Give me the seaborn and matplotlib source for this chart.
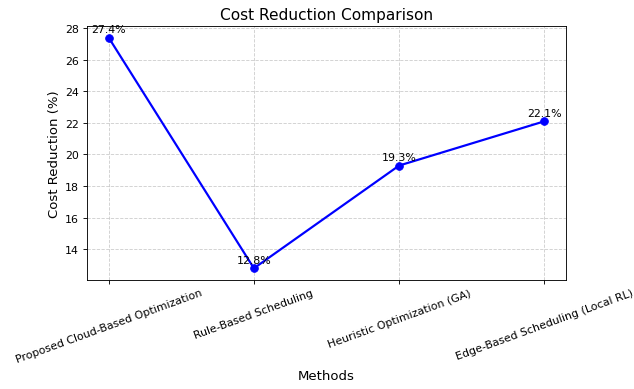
import matplotlib
matplotlib.use("Agg")
import matplotlib.pyplot as plt
import seaborn as sns
import pandas as pd

methods = ["Proposed Cloud-Based Optimization", "Rule-Based Scheduling",
           "Heuristic Optimization (GA)", "Edge-Based Scheduling (Local RL)"]
cost_reduction = [27.4, 12.8, 19.3, 22.1]

df = pd.DataFrame({"Method": methods, "Cost Reduction": cost_reduction})

fig, ax = plt.subplots(figsize=(8, 4.92), dpi=79.25)
sns.lineplot(data=df, x="Method", y="Cost Reduction", marker="o", color="blue",
             linewidth=2, markersize=7, markeredgecolor="blue", sort=False, ax=ax)

for i, v in enumerate(cost_reduction):
    ax.annotate(f"{v}%", (i, v), textcoords="offset points", xytext=(0, 5),
                ha="center", fontsize=10)

ax.set_title("Cost Reduction Comparison", fontsize=14)
ax.set_xlabel("Methods", fontsize=12)
ax.set_ylabel("Cost Reduction (%)", fontsize=12)
ax.grid(True, linestyle="--", alpha=0.6)
plt.xticks(rotation=20)
fig.subplots_adjust(left=0.137, right=0.893, top=0.931, bottom=0.28)
fig.savefig("out.png")
